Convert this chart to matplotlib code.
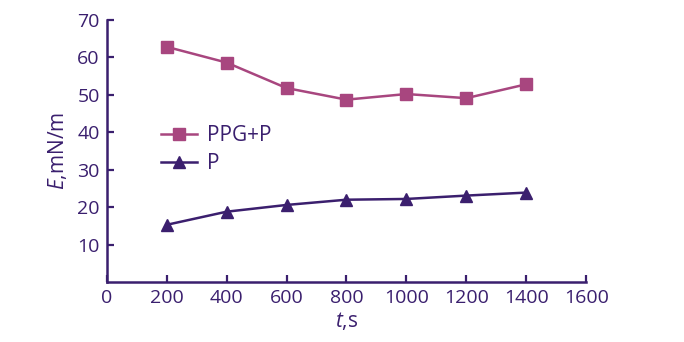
import matplotlib
matplotlib.use("Agg")
import matplotlib.pyplot as plt

# ── Data ──────────────────────────────────────────────────────────────────────
time_s = [200, 400, 600, 800, 1000, 1200, 1400]
e_ppg_p = [62.8, 58.6, 51.8, 48.7, 50.2, 49.1, 52.8]
e_p = [15.3, 18.8, 20.6, 22.0, 22.2, 23.1, 23.9]

x_ticks = [0, 200, 400, 600, 800, 1000, 1200, 1400, 1600]
y_ticks = [10, 20, 30, 40, 50, 60, 70]

AXIS_COLOR = "#3a1f6e"
PINK = "#a8467f"
PURPLE = "#3b1f6e"

plt.rcParams["font.family"] = ["Open Sans", "DejaVu Sans"]
plt.rcParams["mathtext.fontset"] = "custom"
plt.rcParams["mathtext.it"] = "Open Sans:italic"
plt.rcParams["mathtext.rm"] = "Open Sans"

fig = plt.figure(figsize=(6.84, 3.42), dpi=100)
ax = fig.add_axes([0.156, 0.175, 0.701, 0.767])

ax.plot(time_s, e_ppg_p, color=PINK, lw=1.8, marker="s", ms=8,
        mec=PINK, mfc=PINK, label="PPG+P")
ax.plot(time_s, e_p, color=PURPLE, lw=1.8, marker="^", ms=9,
        mec=PURPLE, mfc=PURPLE, label="P")

ax.set_xlim(0, 1600)
ax.set_ylim(0, 70)
ax.set_xticks(x_ticks)
ax.set_yticks(y_ticks)

for side in ("top", "right"):
    ax.spines[side].set_visible(False)
for side in ("left", "bottom"):
    ax.spines[side].set_color(AXIS_COLOR)
    ax.spines[side].set_linewidth(1.8)

ax.tick_params(direction="in", length=5, width=1.6, colors=AXIS_COLOR,
               labelsize=14, labelcolor=AXIS_COLOR, pad=5)

ax.set_xlabel("$t$,s", color=AXIS_COLOR, fontsize=15, labelpad=2)
ax.set_ylabel("$E$,mN/m", color=AXIS_COLOR, fontsize=15, labelpad=6)

leg = ax.legend(loc="upper left", bbox_to_anchor=(0.075, 0.67), frameon=False,
                fontsize=15, handlelength=1.7, handletextpad=0.5,
                labelspacing=0.35)
for txt in leg.get_texts():
    txt.set_color(AXIS_COLOR)

fig.savefig("out.png", dpi=100)
